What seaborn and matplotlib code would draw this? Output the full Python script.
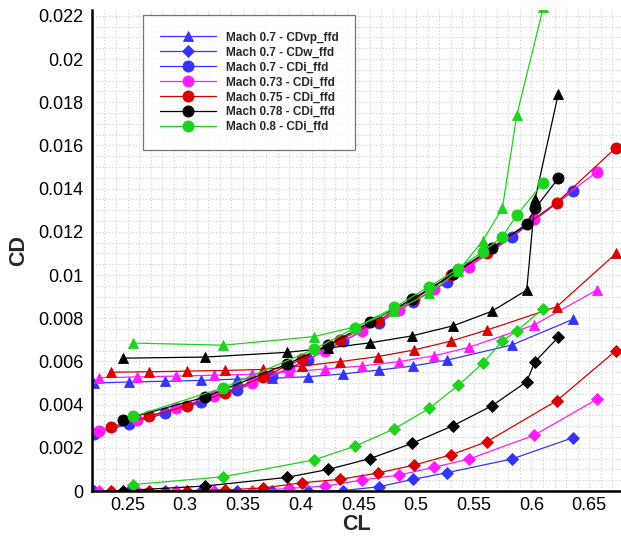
import numpy as np
import pandas as pd
import matplotlib
matplotlib.use("Agg")
import matplotlib.pyplot as plt
from matplotlib.ticker import MultipleLocator, FuncFormatter
import seaborn as sns

# ---------------- data (CD values in units of 1e-3) ----------------
cl_070 = [0.2206, 0.2516, 0.2826, 0.3136, 0.3446, 0.375, 0.406, 0.437, 0.468, 0.4974, 0.527, 0.583, 0.636]
cdvp_070 = [5.0, 5.05, 5.08, 5.12, 5.18, 5.22, 5.29, 5.42, 5.60, 5.79, 6.06, 6.76, 7.95]
cdw_070 = [0.0, 0.0, 0.0, 0.0, 0.0, 0.0, 0.0, 0.02, 0.2, 0.54, 0.85, 1.48, 2.47]
cdi_070 = [2.65, 3.1, 3.6, 4.1, 4.68, 5.33, 6.08, 6.94, 7.79, 8.76, 9.69, 11.75, 13.89]

cl_073 = [0.2256, 0.2586, 0.2916, 0.3246, 0.3576, 0.390, 0.4211, 0.4535, 0.4853, 0.5156, 0.5459, 0.6023, 0.6568]
cdvp_073 = [5.25, 5.28, 5.32, 5.36, 5.40, 5.52, 5.65, 5.79, 5.99, 6.26, 6.65, 7.69, 9.31]
cdw_073 = [0.0, 0.0, 0.0, 0.0, 0.0, 0.12, 0.23, 0.51, 0.74, 1.10, 1.48, 2.58, 4.25]
cdi_073 = [2.8, 3.3, 3.85, 4.4, 4.99, 5.63, 6.50, 7.42, 8.38, 9.34, 10.38, 12.58, 14.78]

cl_075 = [0.2357, 0.2687, 0.3017, 0.3347, 0.3677, 0.401, 0.4341, 0.4666, 0.4983, 0.530, 0.5613, 0.6219, 0.6733]
cdvp_075 = [5.5, 5.52, 5.55, 5.58, 5.63, 5.79, 5.99, 6.22, 6.53, 6.94, 7.45, 8.53, 11.0]
cdw_075 = [0.0, 0.0, 0.02, 0.05, 0.14, 0.38, 0.54, 0.83, 1.20, 1.67, 2.28, 4.18, 6.5]
cdi_075 = [2.95, 3.45, 3.95, 4.55, 5.29, 6.10, 6.99, 7.87, 8.87, 10.0, 11.0, 13.35, 15.9]

cl_078 = [0.246, 0.3172, 0.388, 0.424, 0.4601, 0.4963, 0.5323, 0.5656, 0.5959, 0.6031, 0.6233]
cdvp_078 = [6.15, 6.2, 6.42, 6.62, 6.86, 7.18, 7.65, 8.32, 9.30, 13.5, 18.4]
cdw_078 = [0.02, 0.23, 0.63, 1.0, 1.50, 2.20, 3.03, 3.94, 5.06, 5.99, 7.12]
cdi_078 = [3.3, 4.35, 5.87, 6.76, 7.81, 8.87, 10.03, 11.26, 12.35, 13.08, 14.48]

cl_080 = [0.255, 0.333, 0.4116, 0.4474, 0.4812, 0.5113, 0.5367, 0.5578, 0.5748, 0.5873, 0.6103]
cdvp_080 = [6.85, 6.75, 7.15, 7.6, 8.35, 9.15, 10.2, 11.59, 13.09, 17.4, 22.4]
cdw_080 = [0.3, 0.66, 1.44, 2.08, 2.88, 3.82, 4.90, 5.91, 6.94, 7.42, 8.44]
cdi_080 = [3.45, 4.78, 6.56, 7.56, 8.50, 9.46, 10.3, 11.08, 11.77, 12.78, 14.27]

x_ticks = [0.25, 0.3, 0.35, 0.4, 0.45, 0.5, 0.55, 0.6, 0.65]
y_ticks = [0, 0.002, 0.004, 0.006, 0.008, 0.01, 0.012, 0.014, 0.016, 0.018, 0.02, 0.022]

machs = ["0.7", "0.73", "0.75", "0.78", "0.8"]
colors = {"0.7": "#3434ff", "0.73": "#ff1aff", "0.75": "#d80000",
          "0.78": "#000000", "0.8": "#1ed21e"}
series = {
    "0.7": (cl_070, cdvp_070, cdw_070, cdi_070),
    "0.73": (cl_073, cdvp_073, cdw_073, cdi_073),
    "0.75": (cl_075, cdvp_075, cdw_075, cdi_075),
    "0.78": (cl_078, cdvp_078, cdw_078, cdi_078),
    "0.8": (cl_080, cdvp_080, cdw_080, cdi_080),
}

# ---------------- style ----------------
sns.set_style("white")
plt.rcParams["font.family"] = ["Liberation Sans", "DejaVu Sans"]

fig = plt.figure(figsize=(6.21, 5.36), dpi=100)
ax = fig.add_axes([92 / 621, 45 / 536, 529 / 621, 481 / 536])

handles = {}
for m in machs:
    cl, vp, w, i = series[m]
    c = colors[m]
    for kind, vals, mk, ms in (("CDvp_ffd", vp, "^", 7.5), ("CDw_ffd", w, "D", 6.0), ("CDi_ffd", i, "o", 8.0)):
        df = pd.DataFrame({"CL": cl, "CD": np.array(vals) * 1e-3})
        n_before = len(ax.lines)
        sns.lineplot(data=df, x="CL", y="CD", ax=ax, color=c, marker=mk,
                     markersize=ms, markeredgecolor=c, markeredgewidth=0.6,
                     linewidth=0.9, estimator=None, sort=False, legend=False)
        handles[(m, kind)] = ax.lines[n_before]

legend_keys = [("0.7", "CDvp_ffd"), ("0.7", "CDw_ffd"), ("0.7", "CDi_ffd"),
               ("0.73", "CDi_ffd"), ("0.75", "CDi_ffd"), ("0.78", "CDi_ffd"), ("0.8", "CDi_ffd")]
leg_handles = [handles[k] for k in legend_keys]
leg_labels = [f"Mach {m} - {k}" for m, k in legend_keys]

leg = ax.legend(leg_handles, leg_labels, loc="upper left",
                bbox_to_anchor=(143 / 621, 1 - 15 / 536), bbox_transform=fig.transFigure,
                borderaxespad=0, frameon=True, fancybox=False, shadow=False,
                prop={"weight": "bold", "size": 8.5}, handlelength=4.8,
                handletextpad=0.8, labelspacing=0.25, borderpad=1.4, numpoints=1)
leg.get_frame().set_edgecolor("#555555")
leg.get_frame().set_linewidth(0.9)

ax.set_xlim(0.2192, 0.6776)
ax.set_ylim(0, 0.02227)
ax.set_xticks(x_ticks)
ax.set_yticks(y_ticks)
ax.xaxis.set_minor_locator(MultipleLocator(0.01))
ax.yaxis.set_minor_locator(MultipleLocator(0.0005))
fmt = FuncFormatter(lambda v, p: f"{v:g}")
ax.xaxis.set_major_formatter(fmt)
ax.yaxis.set_major_formatter(fmt)

ax.tick_params(axis="both", which="major", direction="in", length=10, width=1.6,
               labelsize=13, colors="black")
ax.tick_params(axis="x", which="major", pad=4)
ax.tick_params(axis="y", which="major", pad=6)
ax.tick_params(axis="both", which="minor", direction="in", length=5, width=1.0)
ax.grid(True, which="both", color="#cfcfcf", linestyle=(0, (1, 2)), linewidth=0.8)
ax.set_axisbelow(True)

for s in ("top", "right"):
    ax.spines[s].set_visible(False)
for s in ("left", "bottom"):
    ax.spines[s].set_linewidth(1.8)
    ax.spines[s].set_color("black")

ax.set_xlabel("CL", fontsize=15.5, fontweight="bold")
ax.set_ylabel("CD", fontsize=15.5, fontweight="bold")
# place axis titles at fixed figure positions (reference: CL centre ~y=524, CD centre ~x=19)
ax.xaxis.set_label_coords(356 / 621, 1 - 524 / 536, transform=fig.transFigure)
ax.xaxis.label.set_va("center")
ax.yaxis.set_label_coords(19 / 621, 1 - 250 / 536, transform=fig.transFigure)
ax.yaxis.label.set_va("center")

fig.savefig("out.png", dpi=100)
